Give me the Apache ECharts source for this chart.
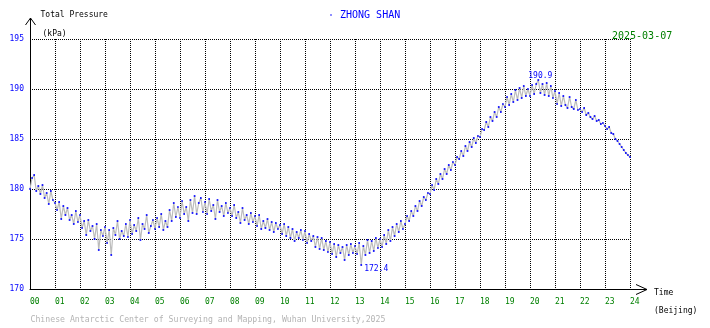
<!DOCTYPE html>
<html><head><meta charset="utf-8">
<script src="https://cdn.jsdelivr.net/npm/echarts@6/dist/echarts.min.js"></script>
<style>html,body{margin:0;padding:0;background:#fff}#c{width:710px;height:328px}</style>
</head><body><div id="c"></div>
<script>
// Total pressure (kPa), 5-minute samples from 00:00 to 24:00 (Beijing)
const pressure = [
  180.0,181.1,181.4,179.8,180.3,179.5,180.4,179.1,179.6,178.5,179.8,178.9,
  178.6,177.9,178.7,177.0,178.3,177.4,178.1,176.9,177.4,176.5,177.8,176.7,
  177.4,176.1,176.8,175.4,176.9,175.8,176.3,175.0,176.5,173.9,175.9,175.3,
  176.2,174.6,175.9,173.4,176.1,175.4,176.8,175.0,175.8,175.3,176.5,175.2,
  176.9,175.5,176.4,175.8,177.1,174.9,176.5,176.0,177.4,175.6,176.3,176.9,
  176.0,177.1,176.2,177.5,175.9,176.8,176.2,177.9,176.8,178.6,177.2,178.2,
  177.1,178.8,177.5,178.2,176.8,178.9,177.6,179.3,177.5,178.6,179.1,177.7,
  178.7,177.5,179.0,177.8,178.4,177.0,178.9,177.7,178.3,177.3,178.6,177.6,
  178.1,177.3,178.4,177.1,177.7,176.6,178.1,176.9,177.4,176.5,177.6,176.7,
  177.3,176.3,177.4,176.0,176.8,176.1,177.0,175.9,176.7,175.7,176.6,176.0,
  176.4,175.5,176.5,175.3,176.2,175.1,176.0,174.8,175.7,175.1,175.9,174.9,
  175.8,174.6,175.5,174.8,175.3,174.2,175.2,174.0,175.1,173.9,174.8,173.7,
  174.7,173.5,174.5,173.2,174.4,173.6,174.2,172.9,174.4,173.4,174.5,173.6,
  174.3,173.5,174.6,172.4,174.3,173.4,174.9,173.6,174.8,173.8,175.1,174.1,
  175.0,174.2,175.4,174.5,175.9,174.8,176.2,175.3,176.5,175.7,176.8,176.0,
  176.5,177.3,176.8,177.8,177.3,178.3,177.8,178.8,178.3,179.2,178.9,179.6,
  179.5,180.4,179.9,181.0,180.5,181.5,181.0,182.0,181.5,182.4,181.9,182.7,
  182.4,183.2,183.0,183.8,183.3,184.3,183.8,184.7,184.2,185.1,184.6,185.3,
  185.2,186.0,185.9,186.7,186.2,187.2,186.8,187.7,187.2,188.2,187.7,188.5,
  188.2,189.2,188.4,189.5,188.7,189.9,188.9,190.1,189.1,190.3,189.3,190.0,
  189.3,190.4,189.5,190.5,190.9,189.6,190.5,189.4,190.6,189.3,190.3,189.1,
  189.8,188.5,189.6,188.3,189.3,188.4,188.1,189.2,188.2,188.0,188.9,187.9,
  188.0,187.7,188.1,187.4,187.6,187.2,187.0,187.3,186.8,186.9,186.5,186.6,
  186.3,186.0,186.2,185.6,185.5,185.0,184.8,184.5,184.2,183.9,183.6,183.4,
  183.2
];
const samplesPerHour = 12;
const hourTicks = ['00','01','02','03','04','05','06','07','08','09','10','11','12','13','14','15','16','17','18','19','20','21','22','23','24'];
const yTicks = [170,175,180,185,190,195];
const stationName = 'ZHONG SHAN';
const dateLabel = '2025-03-07';
const yTitle = 'Total Pressure';
const yUnit = '(kPa)';
const xTitle = 'Time';
const xUnit = '(Beijing)';
const footer = 'Chinese Antarctic Center of Surveying and Mapping, Wuhan University,2025';

const mono = 'DejaVu Sans Mono';
const seriesData = pressure.map((v, i) => [i / samplesPerHour, v]);

const chart = echarts.init(document.getElementById('c'), null, {renderer: 'canvas'});
const option = {
  animation: false,
  backgroundColor: '#ffffff',
  grid: {left: 30, right: 80, top: 39, bottom: 39, containLabel: false},
  xAxis: {
    type: 'value', min: 0, max: 24, interval: 1,
    axisLine: {show: true, onZero: false, lineStyle: {color: '#000', width: 1}},
    axisTick: {show: false},
    axisLabel: {color: '#008000', fontFamily: mono, fontSize: 8, margin: 9, align: 'left',
      formatter: v => hourTicks[Math.round(v)] || ''},
    splitLine: {show: true, lineStyle: {color: '#000', width: 1, type: [1, 1]}}
  },
  yAxis: {
    type: 'value', min: yTicks[0], max: yTicks[yTicks.length - 1], interval: 5,
    axisLine: {show: true, onZero: false, lineStyle: {color: '#000', width: 1}},
    axisTick: {show: false},
    axisLabel: {color: '#0000ff', fontFamily: mono, fontSize: 8, margin: 6,
      formatter: v => String(v)},
    splitLine: {show: true, lineStyle: {color: '#000', width: 1, type: [1, 1]}}
  },
  series: [{
    type: 'line',
    data: seriesData,
    showAllSymbol: true,
    symbol: 'rect',
    symbolSize: 1.7,
    lineStyle: {color: '#bcbcbc', width: 1.2},
    itemStyle: {color: '#0000ff'},
    z: 3,
    markPoint: {
      symbol: 'rect', symbolSize: 0,
      label: {show: true, fontFamily: mono, fontSize: 8, color: '#0000ff'},
      data: [
        {type: 'max', label: {position: 'inside', offset: [2, -4], formatter: p => p.value.toFixed(1)}},
        {type: 'min', label: {position: 'inside', offset: [15, 4], formatter: p => p.value.toFixed(1)}}
      ]
    }
  }]
};
chart.setOption(option);

// axis extensions with open arrow heads, positioned from the axes
const origin = chart.convertToPixel({gridIndex: 0}, [0, yTicks[0]]);
const topLeft = chart.convertToPixel({gridIndex: 0}, [0, yTicks[yTicks.length - 1]]);
const endRight = chart.convertToPixel({gridIndex: 0}, [24, yTicks[0]]);
const ox = Math.round(origin[0]) + 0.5, oy = Math.round(origin[1]) + 0.5;
const yTop = topLeft[1] - 21;
const xEnd = endRight[0] + 17;
const blk = {stroke: '#000', lineWidth: 1, fill: null};
chart.setOption({
  graphic: [
    {type: 'line', shape: {x1: ox, y1: topLeft[1], x2: ox, y2: yTop}, style: blk, silent: true},
    {type: 'polyline', shape: {points: [[ox - 5, yTop + 7], [ox, yTop], [ox + 5, yTop + 7]]}, style: blk, silent: true},
    {type: 'line', shape: {x1: endRight[0], y1: oy, x2: xEnd, y2: oy}, style: blk, silent: true},
    {type: 'polyline', shape: {points: [[xEnd - 11, oy - 5], [xEnd, oy], [xEnd - 11, oy + 5]]}, style: blk, silent: true},
    {type: 'text', left: ox + 10, top: 11, style: {text: yTitle, fontFamily: mono, fontSize: 8, fill: '#000'}},
    {type: 'text', left: ox + 12, top: 30, style: {text: yUnit, fontFamily: mono, fontSize: 8, fill: '#000'}},
    {type: 'circle', shape: {cx: 331, cy: 15, r: 0.8}, style: {fill: '#0000ff'}},
    {type: 'text', left: 340, top: 10, style: {text: stationName, fontFamily: mono, fontSize: 10, fill: '#0000ff'}},
    {type: 'text', left: 612, top: 31, style: {text: dateLabel, fontFamily: mono, fontSize: 10, fill: '#008000'}},
    {type: 'text', left: xEnd + 7, top: oy - 1, style: {text: xTitle, fontFamily: mono, fontSize: 8, fill: '#000'}},
    {type: 'text', left: xEnd + 7, top: oy + 17, style: {text: xUnit, fontFamily: mono, fontSize: 8, fill: '#000'}},
    {type: 'text', left: ox, top: 316, style: {text: footer, fontFamily: mono, fontSize: 8.2, fill: '#b4b4b4'}}
  ]
});
</script>
</body></html>
